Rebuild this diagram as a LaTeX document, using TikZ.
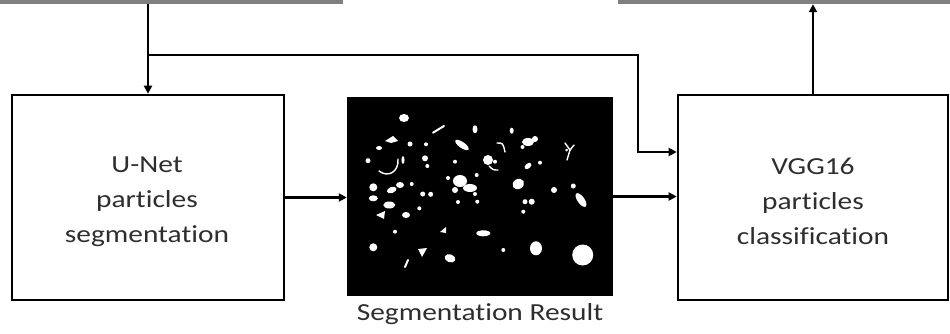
\documentclass[tikz,border=0pt]{standalone}
\usepackage{fontspec}
\setmainfont{Carlito}[FakeStretch=1.2, Ligatures=NoCommon]
\usetikzlibrary{arrows.meta,calc}
\begin{document}
\begin{tikzpicture}[x=1pt,y=-1pt,
  conn/.style={line width=2.4pt, -{Triangle[length=8pt,width=8pt]}},
  stagebox/.style={draw, line width=2.6pt, minimum height=205pt, inner sep=0pt},
  stagetext/.style={align=center, inner sep=0pt, text=black!82, font=\fontsize{24.5}{35}\selectfont},
  graybar/.style={fill=black!50, inner sep=0pt, minimum height=4pt},
  thinp/.style={draw=white, line width=1.4pt, line cap=round},
]
\useasboundingbox (0,0) rectangle (950,334);
% top bars
\node[graybar, minimum width=343pt] (tlbar) at (171.5,2) {};
\node[graybar, minimum width=332pt] (trbar) at (784,2) {};
% boxes
\node[stagebox, minimum width=272pt] (unet) at (148,197.5) {};
\node[stagetext] (unettxt) at (147,201.5) {U-Net\\particles\\segmentation};
\node[stagebox, minimum width=270pt] (vgg) at (813,197.5) {};
\node[stagetext] (vggtxt) at (813,201.5) {VGG16\\particles\\classification};
% segmentation image
\node[fill=black, inner sep=0pt, minimum width=266pt, minimum height=199pt] (seg) at (480,196.5) {};
\node[anchor=base, text=black!82, font=\fontsize{24.5}{30}\selectfont] (cap) at (480,320) {Segmentation Result};
% particles
\begin{scope}
\fill[white] (404,118) ellipse (5pt and 4pt);
\draw[thinp, line width=2pt] (433,132.7) -- (444,126);
\fill[white] (475,129.3) ellipse (2.5pt and 4pt);
\fill[white] (511.7,130.7) ellipse (2pt and 3pt);
\fill[white] (385,141) -- (393,136) -- (398,141) -- (391,143) -- cycle;
\fill[white] (379,148) ellipse (3pt and 2pt);
\fill[white] (410,144) circle (2.5pt);
\fill[white] (426,144.3) circle (2pt);
\fill[white, rotate around={-35:(462,145)}] (462,145) ellipse (8pt and 3pt);
\draw[thinp] (497,143) .. controls (503,143) .. (505,152);
\fill[white] (528,142) ellipse (6pt and 4pt);
\fill[white] (535,139) circle (3pt);
\fill[white] (522.5,147) circle (2pt);
\draw[thinp] (565,143) -- (570,150) -- (574,145);
\draw[thinp] (570,150) -- (567,160);
\fill[white] (566.5,150) circle (1.5pt);
\fill[white] (368,160.7) circle (2.5pt);
\draw[thinp] (379,171) .. controls (388,178) and (399,172) .. (398,159);
\fill[white] (403,160) ellipse (1.5pt and 4pt);
\fill[white] (425,158.3) circle (3pt);
\fill[white] (427.3,166) circle (2pt);
\fill[white] (455,161.7) circle (2pt);
\fill[white] (488,160) ellipse (5pt and 5pt);
\fill[white] (495,161.7) circle (2pt);
\draw[thinp] (489,166) .. controls (493,170) .. (498,170);
\fill[white, rotate around={40:(528,166)}] (528,166) ellipse (4pt and 2.5pt);
\fill[white] (540,162.7) circle (2pt);
\fill[white] (476.7,175) circle (2pt);
\fill[white] (460,181) ellipse (7pt and 6pt);
\fill[white] (470,188) ellipse (7pt and 4pt);
\fill[white] (455,190) circle (3pt);
\fill[white] (475,194) circle (2pt);
\fill[white] (448,178) circle (2pt);
\fill[white] (458,202) circle (2pt);
\fill[white] (373.3,187.3) circle (4pt);
\fill[white, rotate around={20:(391.7,190)}] (391.7,190) ellipse (5pt and 3pt);
\fill[white] (400,185) ellipse (4pt and 3pt);
\fill[white] (411.7,184) circle (2pt);
\fill[white] (422.7,194) circle (2.5pt);
\fill[white] (430.7,194.3) circle (2.5pt);
\fill[white] (373.3,198.3) ellipse (4.5pt and 3pt);
\fill[white, rotate around={30:(518.3,184)}] (518.3,184) ellipse (6pt and 5pt);
\fill[white] (554,190) circle (3pt);
\fill[white] (573.3,186) circle (2.5pt);
\fill[white, rotate around={-55:(581,200)}] (581,200) ellipse (8pt and 3.5pt);
\fill[white] (389.3,205) ellipse (6pt and 3.5pt);
\fill[white] (419.3,208.3) circle (2pt);
\fill[white] (477.3,201.7) circle (2pt);
\fill[white] (525,201.7) circle (2.5pt);
\fill[white] (531.7,201.7) circle (3pt);
\fill[white] (523.3,211.7) circle (2pt);
\fill[white] (376,215) -- (385,211) -- (384,219) -- cycle;
\fill[white] (406,215) ellipse (4pt and 3pt);
\fill[white] (395,231.7) circle (2pt);
\fill[white] (440,232) -- (446,227) -- (446,233) -- cycle;
\fill[white] (483.3,233.3) ellipse (7pt and 3pt);
\fill[white] (373.3,247.3) circle (4pt);
\fill[white] (418,249) -- (427,248) -- (422,257) -- cycle;
\draw[thinp, line width=2pt] (408,260) -- (405,267);
\fill[white, rotate around={-20:(450,258.3)}] (450,258.3) ellipse (5.5pt and 4pt);
\fill[white] (503.3,250) circle (2pt);
\fill[white] (536,248.3) ellipse (6pt and 7pt);
\fill[white] (582.7,255) circle (10.5pt);
\end{scope}
% connectors
\coordinate (br) at (148,55);
\coordinate (bend) at (638,55);
\path (vgg.west) ++(0,-45.5) coordinate (vin1);
\draw[conn] (tlbar.south -| unet.north) -- (unet.north);
\draw[conn] (br) -- (bend) |- (vin1);
\draw[conn] (unet.east) -- (unet.east -| seg.west);
\draw[conn] (seg.east) -- (seg.east -| vgg.west);
\draw[conn] (vgg.north) -- (vgg.north |- trbar.south);
\end{tikzpicture}
\end{document}
